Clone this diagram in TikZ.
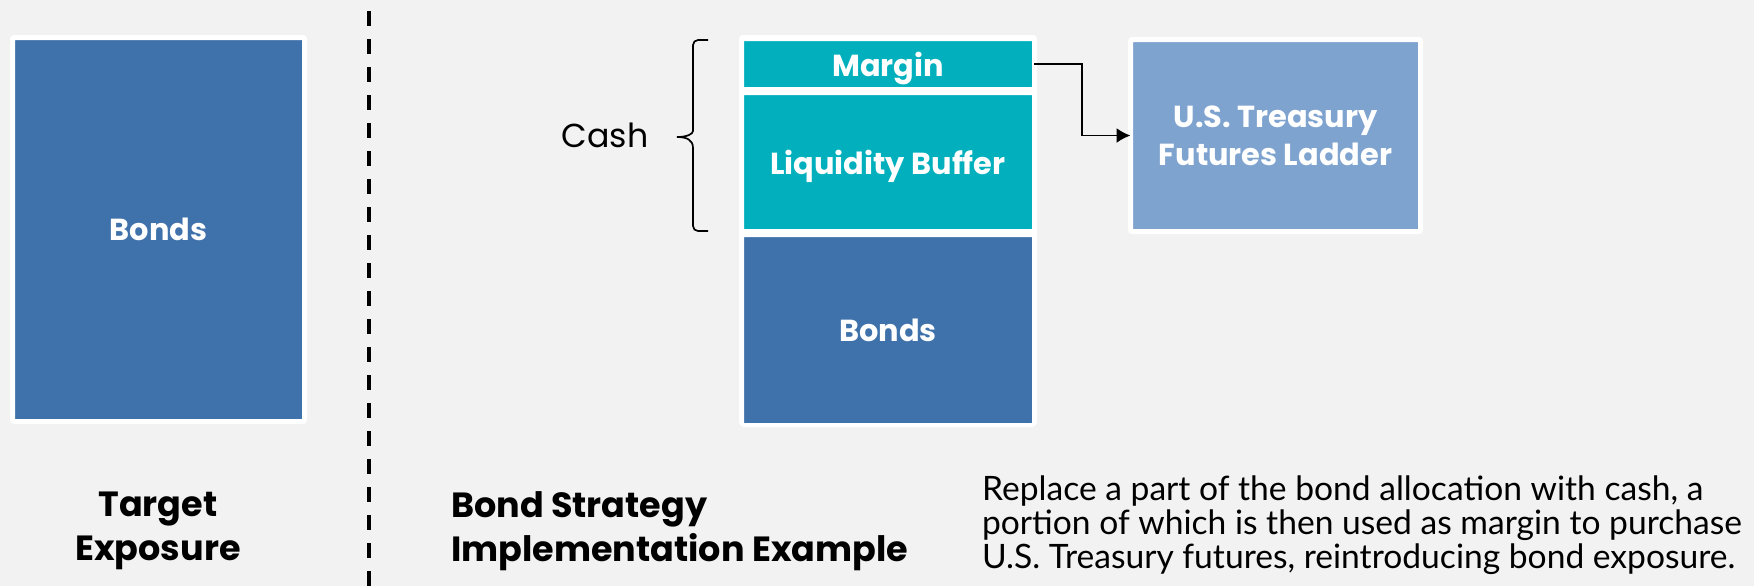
\documentclass[tikz,border=0pt]{standalone}
\usepackage{fontspec}
\setmainfont{Poppins}
\newfontfamily\notefont{Lato}
\usepackage{xcolor}
\usetikzlibrary{arrows.meta, positioning}

\definecolor{paper}{HTML}{F2F2F2}
\definecolor{bondblue}{HTML}{3F72AA}
\definecolor{cashteal}{HTML}{02B0BD}
\definecolor{futblue}{HTML}{7FA3CF}

\begin{document}
\begin{tikzpicture}[x=0.5pt, y=-0.5pt,
		block/.style={draw=white, line width=2pt, outer sep=0pt, rounded corners=1pt, inner sep=0pt,
			text=white, text depth=0pt, align=center, font=\bfseries\fontsize{15.2}{19}\selectfont},
		link/.style={line width=0.9pt, -{Latex[length=7pt, width=7.5pt]}},
	]
			\fill[paper] (0,0) rectangle (1754,586);
			\useasboundingbox (0,0) rectangle (1754,586);

			% target exposure
			\node[block, line width=2.5pt, fill=bondblue, minimum width=146pt, minimum height=192pt] (tbonds) at (158.5,229.5) {Bonds};

			% separator
			\draw[line width=2.2pt, dash pattern=on 7.5pt off 6.5pt] (369,11) -- (369,586);

			% implementation stack
			\fill[white, rounded corners=2pt] (739,35) rectangle (1037,426);
			\node[block, fill=cashteal, minimum width=146pt, minimum height=25pt] (margin) at (888,64) {Margin};
			\node[block, fill=cashteal, minimum width=146pt, minimum height=69pt, below=2pt of margin] (liquidity) {Liquidity Buffer};
			\node[block, fill=bondblue, minimum width=146pt, minimum height=95pt, below=2pt of liquidity] (sbonds) {Bonds};

			\node[block, line width=2.5pt, fill=futblue, minimum width=145pt, minimum height=96pt] (futures) at (1275.5,135.5) {U.S. Treasury\\Futures Ladder};

			\draw[link] (margin.east) -- ++(48,0) |- (futures.west);

			% brace over the cash part
			\draw[line width=0.85pt, rounded corners=2.5pt] (708,40) -- (693,40) -- (693,126)
				[sharp corners] .. controls (693,134) and (687,137) .. (677,137)
				.. controls (687,137) and (693,140) .. (693,148)
				[rounded corners=2.5pt] -- (693,231) -- (708,231);
			\node[font=\fontsize{16.6}{20}\selectfont] (cash) at (605,135) {Cash};

			% captions
			\node[align=center, font=\bfseries\fontsize{17.5}{22}\selectfont] (target) at (158,531) {Target\\Exposure};
			\node[anchor=west, align=left, font=\bfseries\fontsize{17.5}{22}\selectfont] (example) at (444,531) {Bond Strategy\\Implementation Example};
			\node[anchor=west, align=left, font=\notefont\fontsize{16.8}{17}\selectfont] (note) at (975,525)
				{Replace a part of the bond allocation with cash, a\\portion of which is then used as margin to purchase\\U.S. Treasury futures, reintroducing bond exposure.};
\end{tikzpicture}
\end{document}
